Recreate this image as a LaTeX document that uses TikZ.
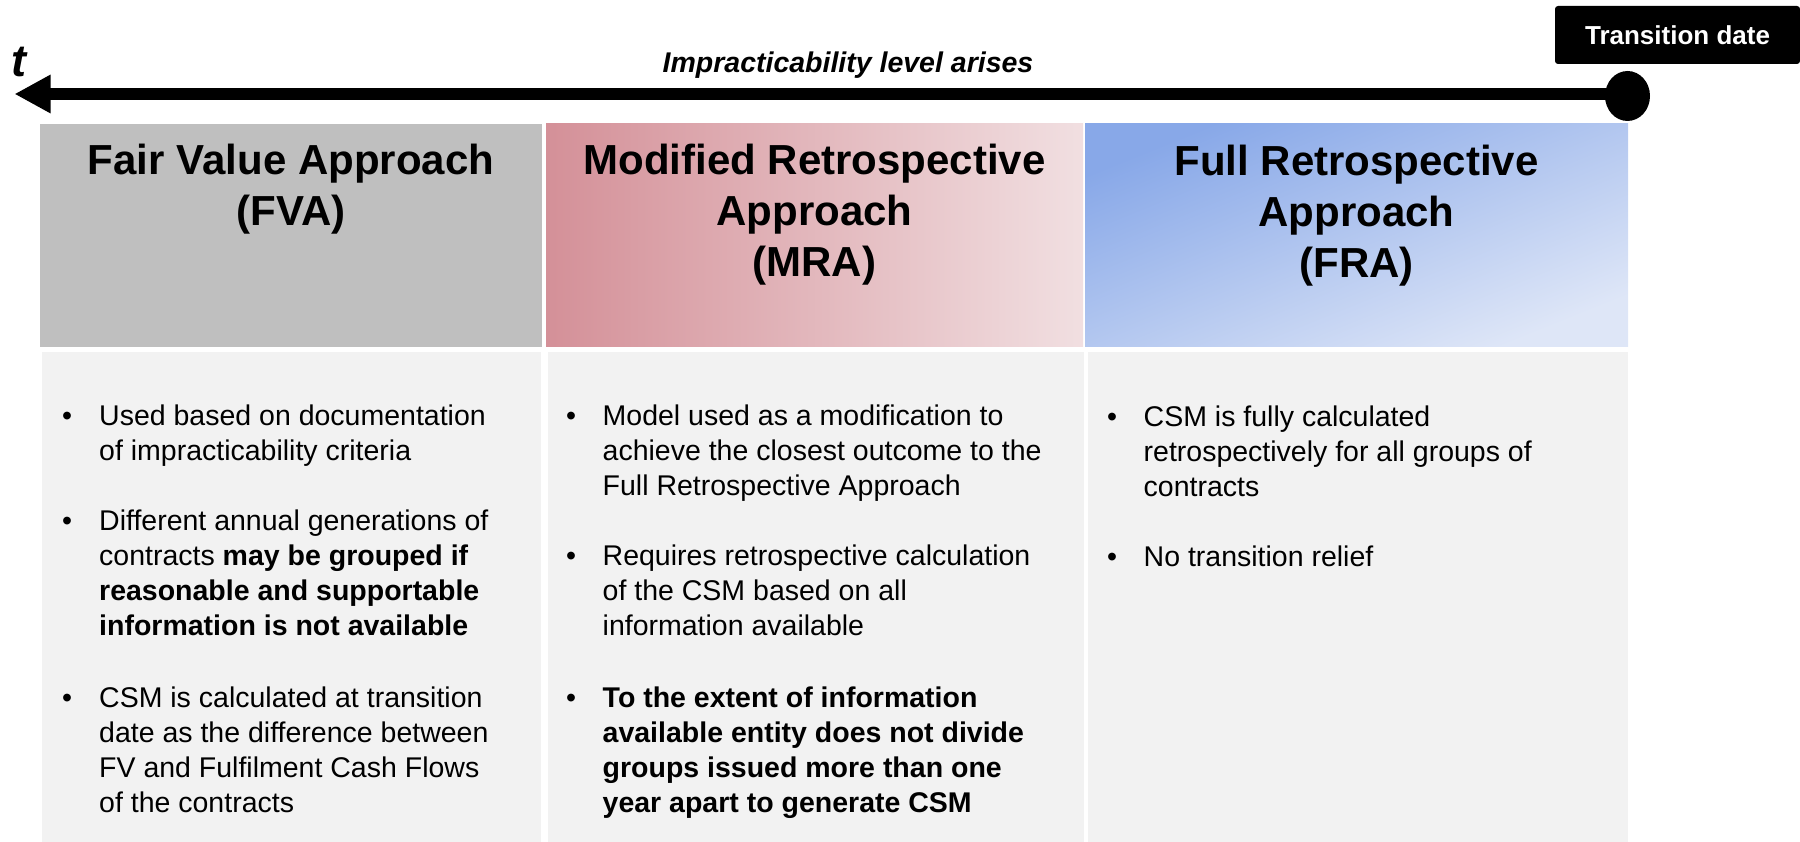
\documentclass[tikz,border=0pt]{standalone}
\usepackage{fontspec}
\setmainfont{Liberation Sans}
\usetikzlibrary{arrows.meta,shapes.geometric}
\definecolor{fvagray}{RGB}{191,191,191}
\definecolor{mraL}{RGB}{212,144,152}
\definecolor{mraR}{RGB}{241,223,225}
\definecolor{fraA}{RGB}{136,168,232}
\definecolor{fraB}{RGB}{222,230,247}
\definecolor{bodygray}{RGB}{242,242,242}
\begin{document}
\begin{tikzpicture}[x=1pt,y=-1pt,
  hbox/.style={rectangle, inner sep=0, outer sep=0, draw=none, minimum height=223},
  bodybox/.style={rectangle, inner sep=0, outer sep=0, draw=none, fill=bodygray, minimum height=490},
  titletxt/.style={anchor=base, inner sep=0, font=\fontsize{42}{51}\selectfont\bfseries},
  btxt/.style={anchor=base west, inner sep=0, font=\fontsize{28.5}{35.2}\selectfont},
  bul/.style={anchor=base, inner sep=0, font=\fontsize{28.5}{35.2}\selectfont},
  timeline/.style={line width=12pt, -{Triangle[length=36pt,width=36pt]}}
]
\useasboundingbox (0,0) rectangle (1800,842);

% header boxes
\node[hbox, minimum width=502, fill=fvagray] (fvah) at (291,235.5) {};
\node[hbox, minimum width=537, left color=mraL, right color=mraR] (mrah) at (814.5,235.5) {};
\node[hbox, minimum width=543, top color=fraA, bottom color=fraB, shading angle=22] (frah) at (1356.5,235.5) {};

% body boxes
\node[bodybox, minimum width=499] (fvab) at (291.5,597) {};
\node[bodybox, minimum width=536] (mrab) at (815.5,597) {};
\node[bodybox, minimum width=540.5] (frab) at (1357.75,597) {};

% titles
\node[titletxt] (fvat) at (291,175) {\parbox[t]{520pt}{\centering Fair Value Approach\\(FVA)}};
\node[titletxt] (mrat) at (814.5,175) {\parbox[t]{530pt}{\centering Modified Retrospective\\Approach\\(MRA)}};
\node[titletxt] (frat) at (1356.5,176) {\parbox[t]{530pt}{\centering Full Retrospective\\Approach\\(FRA)}};

% timeline
\node[ellipse, fill=black, minimum width=45, minimum height=50, inner sep=0] (dot) at (1627.5,96) {};
\coordinate (tip) at (14.5,94);
\draw[timeline] (dot.center |- tip) -- (tip);
\node[anchor=base, inner sep=0, font=\fontsize{45}{54}\selectfont\bfseries\itshape] (tlab) at (19,77) {t};
\node[anchor=base, inner sep=0, font=\fontsize{28.5}{34}\selectfont\bfseries\itshape] (imp) at (848,73) {Impracticability level arises};
\node[fill=black, rounded corners=3pt, minimum width=245, minimum height=58, inner sep=0, text=white, font=\fontsize{26}{30}\selectfont\bfseries] (td) at (1677.5,35) {Transition date};

% FVA bullets
\node[bul] (fb1) at (67,425) {\textbullet};
\node[btxt] (ft1) at (99,425) {\parbox[t]{470pt}{\raggedright Used based on documentation\\of impracticability criteria}};
\node[bul] (fb2) at (67,530) {\textbullet};
\node[btxt] (ft2) at (99,530) {\parbox[t]{470pt}{\raggedright Different annual generations of\\contracts \textbf{may be grouped if}\\\textbf{reasonable and supportable}\\\textbf{information is not available}}};
\node[bul] (fb3) at (67,707) {\textbullet};
\node[btxt] (ft3) at (99,707) {\parbox[t]{470pt}{\raggedright CSM is calculated at transition\\date as the difference between\\FV and Fulfilment Cash Flows\\of the contracts}};

% MRA bullets
\node[bul] (mb1) at (571,425) {\textbullet};
\node[btxt] (mt1) at (602.5,425) {\parbox[t]{480pt}{\raggedright Model used as a modification to\\achieve the closest outcome to the\\Full Retrospective Approach}};
\node[bul] (mb2) at (571,565) {\textbullet};
\node[btxt] (mt2) at (602.5,565) {\parbox[t]{480pt}{\raggedright Requires retrospective calculation\\of the CSM based on all\\information available}};
\node[bul] (mb3) at (571,707) {\textbullet};
\node[btxt] (mt3) at (602.5,707) {\parbox[t]{480pt}{\raggedright\bfseries To the extent of information\\available entity does not divide\\groups issued more than one\\year apart to generate CSM}};

% FRA bullets
\node[bul] (rb1) at (1112,426) {\textbullet};
\node[btxt] (rt1) at (1143.5,426) {\parbox[t]{470pt}{\raggedright CSM is fully calculated\\retrospectively for all groups of\\contracts}};
\node[bul] (rb2) at (1112,566) {\textbullet};
\node[btxt] (rt2) at (1143.5,566) {\parbox[t]{470pt}{\raggedright No transition relief}};
\end{tikzpicture}
\end{document}
